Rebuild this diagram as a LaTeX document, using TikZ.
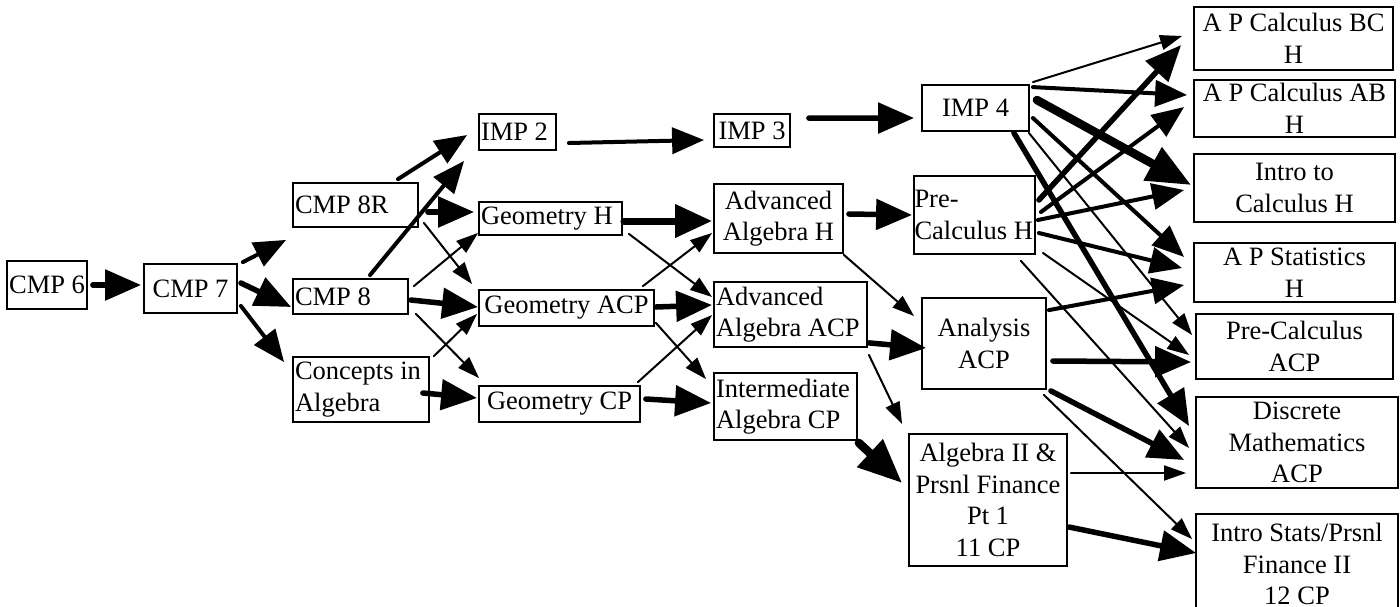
\documentclass[tikz,border=0pt]{standalone}
\usepackage{fontspec}
\setmainfont{Liberation Serif}
\usepackage{tikz}
\usetikzlibrary{arrows.meta, positioning}

\begin{document}
\begin{tikzpicture}[
    x=1pt, y=-1pt,
    course/.style={draw, line width=1.8pt, inner xsep=2pt, inner ysep=1pt, align=center, font=\fontsize{26.5}{31.5}\selectfont},
    leftcourse/.style={course, align=flush left},
    thinarrow/.style={-{Triangle[length=22pt, width=15pt]}, line width=2pt, line cap=round},
    medarrow/.style={-{Triangle[length=32pt, width=26pt]}, line width=4pt, line cap=round},
    thickarrow/.style={-{Triangle[length=36pt, width=30pt]}, line width=5.5pt, line cap=round},
    heavyarrow/.style={-{Triangle[length=44pt, width=36pt]}, line width=8.5pt, line cap=round}
]
\useasboundingbox (0,0) rectangle (1400,606);

% Middle school
\node[course, minimum width=80, minimum height=48] (cmp6) at (47,285) {CMP 6};
\node[course, minimum width=93, minimum height=49] (cmp7) at (190.5,288.5) {CMP 7};
\node[leftcourse, text width=121, minimum height=44] (cmp8r) at (355.5,205) {CMP 8R};
\node[leftcourse, text width=111, minimum height=35] (cmp8) at (350.5,296.5) {CMP 8};
\node[leftcourse, text width=132, minimum height=65] (concepts) at (361,389.5) {Concepts in\\Algebra};

% Geometry / IMP
\node[leftcourse, text width=73, minimum height=36] (imp2) at (517.5,132) {IMP 2};
\node[course, minimum width=76, minimum height=33] (imp3) at (752,130.5) {IMP 3};
\node[leftcourse, text width=139, minimum height=33] (geoh) at (550.5,218.5) {Geometry H};
\node[course, minimum width=175, minimum height=36] (geoacp) at (566.5,308) {Geometry ACP};
\node[course, minimum width=161, minimum height=36] (geocp) at (559.5,404) {Geometry CP};

% Algebra
\node[course, minimum width=129, minimum height=69] (advh) at (778.5,218.5) {Advanced\\Algebra H};
\node[leftcourse, text width=149, minimum height=65] (advacp) at (790.5,314.5) {Advanced\\Algebra ACP};
\node[leftcourse, text width=139, minimum height=67] (intcp) at (785.5,406.5) {Intermediate\\Algebra CP};

% Pre-calculus
\node[course, minimum width=107, minimum height=46] (imp4) at (975.5,108) {IMP 4};
\node[leftcourse, inner xsep=0.5pt, text width=120, minimum height=78] (precalch) at (974.5,215) {Pre-\\Calculus H};
\node[course, minimum width=124, minimum height=91] (analysis) at (984,343.5) {Analysis\\ACP};
\node[course, minimum width=158, minimum height=132] (alg2) at (988,500) {Algebra II \&\\Prsnl Finance\\Pt 1\\11 CP};

% Senior year
\node[course, minimum width=199, minimum height=63] (apbc) at (1293.5,38.5) {A P Calculus BC\\H};
\node[course, minimum width=201, minimum height=57] (apab) at (1294.5,108.5) {A P Calculus AB\\H};
\node[course, minimum width=201, minimum height=68] (introcalc) at (1294.5,188) {Intro to\\Calculus H};
\node[course, minimum width=201, minimum height=59] (apstats) at (1294.5,272.5) {A P Statistics\\H};
\node[course, minimum width=197, minimum height=65] (precalcacp) at (1294.5,346.5) {Pre-Calculus\\ACP};
\node[course, minimum width=202, minimum height=91] (discrete) at (1297,442.5) {Discrete\\Mathematics\\ACP};
\node[course, minimum width=202, minimum height=100] (introstats) at (1297,564) {Intro Stats/Prsnl\\Finance II\\12 CP};

% Arrows out of middle school
\draw[thickarrow] ([shift={(5,0)}]cmp6.east) -- ([shift={(-2,-3.5)}]cmp7.west);
\draw[medarrow] ([shift={(5,-1)}]cmp7.north east) -- ([shift={(-6,12)}]cmp8r.south west);
\draw[thickarrow] ([shift={(3,-5.5)}]cmp7.east) -- ([shift={(-1,10.5)}]cmp8.west);
\draw[medarrow] ([shift={(3,-8)}]cmp7.south east) -- ([shift={(-8,6)}]concepts.north west);
\draw[medarrow] ([shift={(42.5,-3)}]cmp8r.north) -- ([shift={(-11,3)}]imp2.west);
\draw[medarrow] ([shift={(19.5,-3)}]cmp8.north) -- ([shift={(-14,10)}]imp2.south west);
\draw[thickarrow] ([shift={(9,7)}]cmp8r.east) -- ([shift={(-4,-6.5)}]geoh.west);
\draw[thinarrow] ([shift={(5,-5)}]cmp8r.south east) -- ([shift={(-6,-5)}]geoacp.north west);
\draw[thinarrow] ([shift={(5,8)}]cmp8.north east) -- ([shift={(0,-3)}]geoh.south west);
\draw[thickarrow] ([shift={(2,3.5)}]cmp8.east) -- ([shift={(0,-1)}]geoacp.west);
\draw[thinarrow] ([shift={(7,-1)}]cmp8.south east) -- ([shift={(1,-7)}]geocp.north west);
\draw[thinarrow] ([shift={(4,0)}]concepts.north east) -- ([shift={(-1,-13)}]geoacp.south west);
\draw[thickarrow] ([shift={(-7,3.5)}]concepts.east) -- ([shift={(-1,-6)}]geocp.west);

% Arrows out of geometry / IMP
\draw[medarrow] ([shift={(12,11)}]imp2.east) -- ([shift={(-9,9.5)}]imp3.west);
\draw[thickarrow] ([shift={(18,5)}]imp3.north east) -- ([shift={(-7,10)}]imp4.west);
\draw[line width=7pt, -{Triangle[length=37pt, width=32pt]}, line cap=round] ([shift={(1,2.5)}]geoh.east) -- ([shift={(-1,2.5)}]advh.west);
\draw[thinarrow] ([shift={(6,-2)}]geoh.south east) -- ([shift={(-1,-17.5)}]advacp.west);
\draw[thinarrow] ([shift={(-12,-3)}]geoacp.north east) -- ([shift={(-1,-21)}]advh.south west);
\draw[thickarrow] ([shift={(1,-1)}]geoacp.east) -- ([shift={(-1,-9.5)}]advacp.west);
\draw[thinarrow] ([shift={(1,-4)}]geoacp.south east) -- ([shift={(-7,7)}]intcp.north west);
\draw[thinarrow] ([shift={(-3,-3)}]geocp.north east) -- ([shift={(-1,0.5)}]advacp.west);
\draw[thickarrow] ([shift={(5,-5)}]geocp.east) -- ([shift={(-2,-3.5)}]intcp.west);

% Arrows out of algebra
\draw[thickarrow] ([shift={(5,-4.5)}]advh.east) -- ([shift={(-1,0)}]precalch.west);
\draw[thinarrow] ([shift={(0,1)}]advh.south east) -- ([shift={(-7,19)}]analysis.north west);
\draw[thickarrow] ([shift={(1,-5)}]advacp.south east) -- ([shift={(5,4.5)}]analysis.west);
\draw[thinarrow] ([shift={(1,7)}]advacp.south east) -- ([shift={(-6,-9)}]alg2.north west);
\draw[heavyarrow] ([shift={(1,2)}]intcp.south east) -- ([shift={(-6,-17)}]alg2.west);

% Arrows out of IMP 4
\draw[thinarrow] ([shift={(3,-2)}]imp4.north east) -- ([shift={(-11,-2.5)}]apbc.west);
\draw[medarrow] ([shift={(3,3)}]imp4.north east) -- ([shift={(-6,-13.5)}]apab.west);
\draw[heavyarrow] ([shift={(7,-8)}]imp4.east) -- ([shift={(-2,-3)}]introcalc.west);
\draw[medarrow] ([shift={(3,10)}]imp4.east) -- ([shift={(-9,-15.5)}]apstats.west);
\draw[thinarrow] ([shift={(-1,1)}]imp4.south east) -- ([shift={(-3,22)}]precalcacp.north west);
\draw[thickarrow] ([shift={(-16,1)}]imp4.south east) -- ([shift={(-6,30)}]discrete.north west);

% Arrows out of Pre-Calculus H
\draw[thickarrow] ([shift={(3,-15)}]precalch.east) -- ([shift={(-12,6.5)}]apbc.west);
\draw[medarrow] ([shift={(5,-3)}]precalch.east) -- ([shift={(-9,-1.5)}]apab.west);
\draw[medarrow] ([shift={(2,5)}]precalch.east) -- ([shift={(-9,2)}]introcalc.west);
\draw[medarrow] ([shift={(3,18)}]precalch.east) -- ([shift={(-11,-4.5)}]apstats.west);
\draw[thinarrow] ([shift={(7,-2)}]precalch.south east) -- ([shift={(-6,8.5)}]precalcacp.west);
\draw[thinarrow] ([shift={(-15,6)}]precalch.south east) -- ([shift={(-6,5.5)}]discrete.west);

% Arrows out of Analysis ACP
\draw[medarrow] ([shift={(2,13)}]analysis.north east) -- ([shift={(-9,12.5)}]apstats.west);
\draw[thickarrow] ([shift={(6,17.5)}]analysis.east) -- ([shift={(-4,15.5)}]precalcacp.west);
\draw[thickarrow] ([shift={(4,1)}]analysis.south east) -- ([shift={(-11,17.5)}]discrete.west);
\draw[thinarrow] ([shift={(-3,5)}]analysis.south east) -- ([shift={(-3,26)}]introstats.north west);

% Arrows out of Algebra II
\draw[thinarrow] ([shift={(3,-27)}]alg2.east) -- ([shift={(-9,30.5)}]discrete.west);
\draw[thickarrow] ([shift={(1,27)}]alg2.east) -- ([shift={(1,-11)}]introstats.west);

\end{tikzpicture}
\end{document}
